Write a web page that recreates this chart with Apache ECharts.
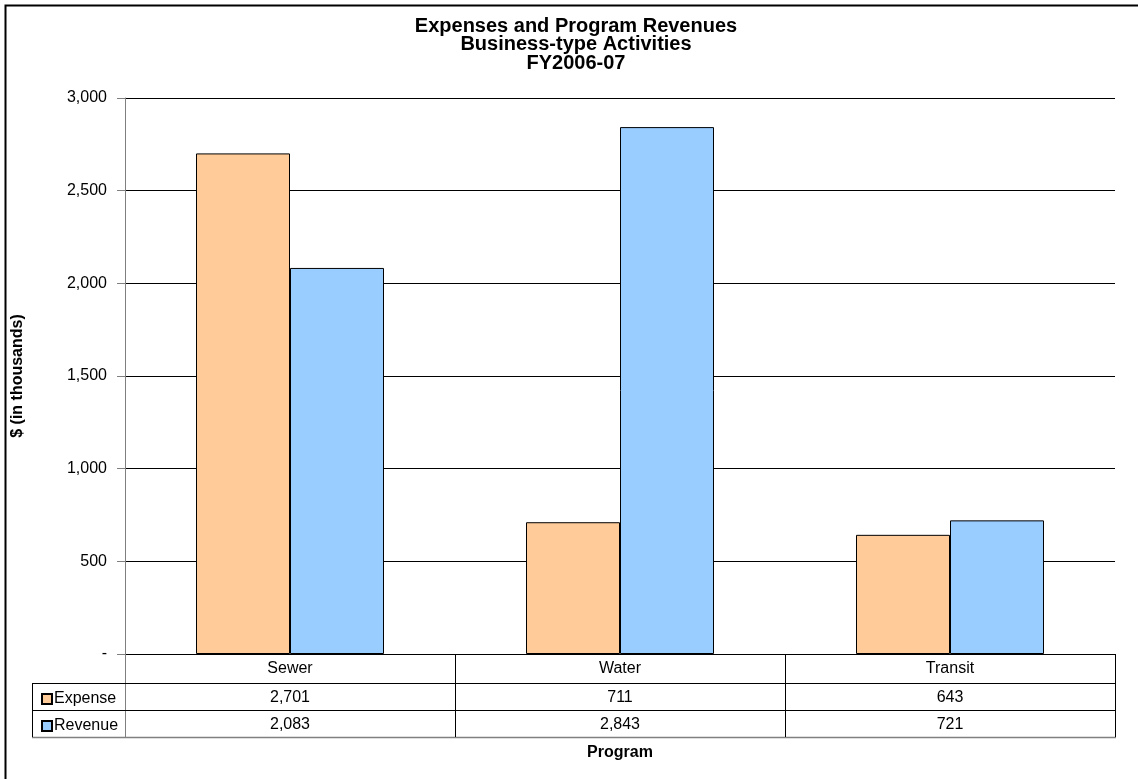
<!DOCTYPE html>
<html>
<head>
<meta charset="utf-8">
<script src="https://cdn.jsdelivr.net/npm/echarts@6/dist/echarts.min.js"></script>
<style>html,body{margin:0;padding:0;background:#fff}#c{width:1138px;height:779px}</style>
</head>
<body>
<div id="c"></div>
<script>
// ---- data ----
var titleLines = ['Expenses and Program Revenues', 'Business-type Activities', 'FY2006-07'];
var categories = ['Sewer', 'Water', 'Transit'];
var seriesNames = ['Expense', 'Revenue'];
var expense = [2701, 711, 643];
var revenue = [2083, 2843, 721];
var yTicks = [0, 500, 1000, 1500, 2000, 2500, 3000];
var yAxisTitle = '$ (in thousands)';
var xAxisTitle = 'Program';

// ---- layout / style ----
var FONT = 'Arial, "Liberation Sans", sans-serif';
var FS = 16;
var G = { left: 125, right: 23, top: 98, bottom: 125 };
var ROW_H = 27, HEAD_H = 29, TABLE_LEFT = 32;
var colors = ['#FFCC99', '#99CCFF'];

function fmt(v) { return v === 0 ? '-' : v.toLocaleString('en-US'); }

var chart = echarts.init(document.getElementById('c'), null, { renderer: 'canvas' });

var option = {
  backgroundColor: '#fff',
  animation: false,
  textStyle: { fontFamily: FONT },
  grid: { left: G.left, right: G.right, top: G.top, bottom: G.bottom, containLabel: false },
  legend: {
    orient: 'vertical', left: TABLE_LEFT + 4, top: 686,
    itemWidth: 10, itemHeight: 10, itemGap: 11, icon: 'rect',
    data: seriesNames,
    textStyle: { fontFamily: FONT, fontSize: FS, color: '#000', lineHeight: 16, padding: [0, 0, 0, -3] },
    selectedMode: false
  },
  xAxis: {
    type: 'category', data: categories,
    axisLine: { show: true, lineStyle: { color: '#000', width: 1 } },
    axisTick: { show: false },
    axisLabel: {
      margin: 0, interval: 0,
      formatter: function (val, i) {
        return '{h|' + val + '}\n{v|' + fmt(expense[i]) + '}\n{v|' + fmt(revenue[i]) + '}';
      },
      rich: {
        h: { fontFamily: FONT, fontSize: FS, color: '#000', lineHeight: HEAD_H },
        v: { fontFamily: FONT, fontSize: FS, color: '#000', lineHeight: ROW_H, padding: [2, 0, 0, 0] }
      }
    },
    name: xAxisTitle, nameLocation: 'middle', nameGap: 91,
    nameTextStyle: { fontFamily: FONT, fontSize: FS, fontWeight: 'bold', color: '#000' }
  },
  yAxis: {
    type: 'value', min: yTicks[0], max: yTicks[yTicks.length - 1], interval: 500,
    axisLine: { show: true, lineStyle: { color: '#808080', width: 1 } },
    axisTick: { show: true, length: 8, lineStyle: { color: '#808080' } },
    axisLabel: { margin: 18, fontFamily: FONT, fontSize: FS, color: '#000', formatter: function (v) { return fmt(v); } },
    splitLine: { show: true, lineStyle: { color: '#000', width: 1 } },
    name: yAxisTitle, nameLocation: 'middle', nameGap: 99, nameRotate: 90,
    nameTextStyle: { fontFamily: FONT, fontSize: 16, fontWeight: 'bold', color: '#000' }
  },
  series: [
    { name: seriesNames[0], type: 'bar', data: expense, barWidth: 94, barGap: '0%',
      itemStyle: { color: colors[0], borderColor: '#000', borderWidth: 1 } },
    { name: seriesNames[1], type: 'bar', data: revenue, barWidth: 94, barGap: '0%',
      itemStyle: { color: colors[1], borderColor: '#000', borderWidth: 1 } }
  ],
  graphic: []
};
chart.setOption(option);

// table lines derived from the chart's own axes
var x0 = chart.convertToPixel({ xAxisIndex: 0 }, 0);
var x1 = chart.convertToPixel({ xAxisIndex: 0 }, 1);
var band = x1 - x0;
var yBase = chart.convertToPixel({ yAxisIndex: 0 }, 0);
var plotL = x0 - band / 2, plotR = plotL + band * categories.length;
var r1 = yBase + HEAD_H, r2 = r1 + ROW_H, r3 = r2 + ROW_H;
function ln(xa, ya, xb, yb, c, w) {
  return { type: 'line', silent: true, z: 10, shape: { x1: xa, y1: ya, x2: xb, y2: yb },
    style: { stroke: c || '#000', lineWidth: w || 1 } };
}
var g = [];
// outer chart border (cropped in reference)
g.push({ type: 'rect', silent: true, z: 0, shape: { x: 5.5, y: 5.5, width: 1300, height: 1000 },
  style: { fill: null, stroke: '#000', lineWidth: 2 } });
// title
g.push({ type: 'text', x: 576, y: 17, silent: true, style: {
  text: titleLines.join('\n'), textAlign: 'center', textVerticalAlign: 'top',
  font: 'bold 20px ' + FONT, lineHeight: 18.5, fill: '#000' } });
// y axis extension through table
g.push(ln(Math.round(plotL) + 0.5, yBase, Math.round(plotL) + 0.5, r3, '#808080'));
// horizontal rows
[r1, r2, r3].forEach(function (y, k) {
  g.push(ln(TABLE_LEFT, Math.round(y) + 0.5, plotR + 1, Math.round(y) + 0.5, k === 2 ? '#808080' : '#000', k === 2 ? 1.5 : 1));
});
// vertical column separators
for (var i = 1; i <= categories.length; i++) {
  var xx = Math.round(plotL + band * i) + 0.5;
  g.push(ln(xx, yBase, xx, r3));
}
g.push(ln(TABLE_LEFT + 0.5, r1, TABLE_LEFT + 0.5, r3));
chart.setOption({ graphic: g });
</script>
</body>
</html>
